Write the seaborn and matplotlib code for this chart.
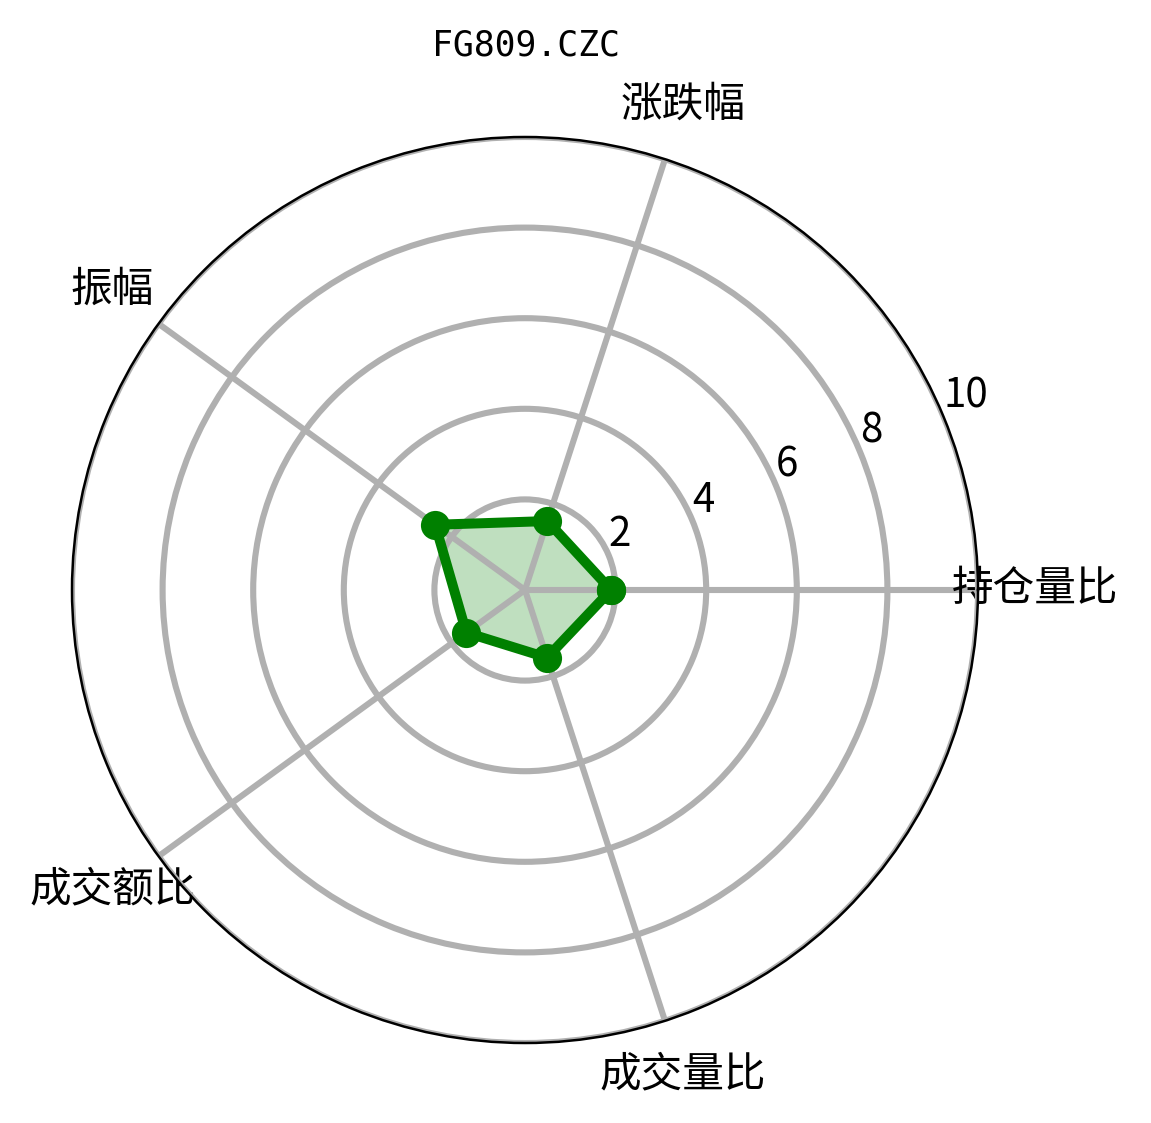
import numpy as np
import pandas as pd
import matplotlib
matplotlib.use("Agg")
import matplotlib.pyplot as plt
import seaborn as sns

title = "FG809.CZC"
categories = ["持仓量比", "涨跌幅", "振幅", "成交额比", "成交量比"]
values = [1.9, 1.6, 2.45, 1.6, 1.57]
r_ticks = [2, 4, 6, 8, 10]
r_tick_labels = ["2", "4", "6", "8", "10"]

sns.set_style("white")
plt.rcParams['font.family'] = ['Noto Sans CJK SC', 'DejaVu Sans']
plt.rcParams['axes.unicode_minus'] = False
plt.rcParams['text.color'] = 'black'
plt.rcParams['xtick.color'] = 'black'
plt.rcParams['ytick.color'] = 'black'

n = len(categories)
angles = np.linspace(0, 2 * np.pi, n, endpoint=False)
df = pd.DataFrame({
    "theta": np.concatenate([angles, [2 * np.pi]]),
    "r": values + values[:1],
})

fig = plt.figure(figsize=(1151 / 200, 1123 / 200), dpi=200)
ax = fig.add_axes([72 / 1151, 80 / 1123, 906 / 1151, 906 / 1123], polar=True)
ax.set_axisbelow(False)

ax.fill(df["theta"], df["r"], color="green", alpha=0.25, zorder=1, linewidth=0)
sns.lineplot(data=df, x="theta", y="r", sort=False, color="green",
             linewidth=3.6, marker="o", markersize=10.5, markeredgewidth=0,
             ax=ax, zorder=4)

ax.set_thetagrids(np.degrees(angles), categories, fontsize=15)
ax.set_ylim(0, 10)
ax.set_yticks(r_ticks)
ax.set_yticklabels(r_tick_labels, fontsize=14.5)
ax.set_rlabel_position(22.5)
ax.tick_params(axis='x', pad=10, colors='black')
ax.tick_params(axis='y', colors='black')
ax.grid(True, color="#b0b0b0", linewidth=2.2)
ax.spines["polar"].set_linewidth(0.9)
ax.spines["polar"].set_color("black")
ax.spines["polar"].set_zorder(5)
ax.set_xlabel("")
ax.set_ylabel("")

fig.text(526 / 1151, 1 - 45 / 1123, title, ha="center", va="center",
         fontsize=12.5, family="DejaVu Sans Mono", color="black")

fig.savefig("out.png", dpi=200)
